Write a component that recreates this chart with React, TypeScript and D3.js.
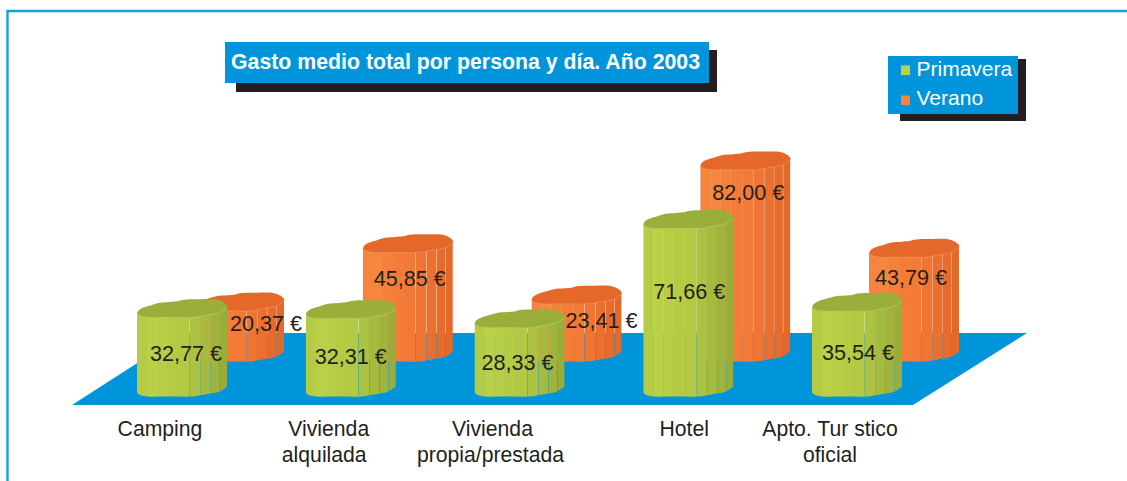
import React from "react";
import * as d3 from "d3";

const categories = ["Camping", "Vivienda alquilada", "Vivienda propia/prestada", "Hotel", "Apto. Tur stico oficial"];
const categoryLines = [["Camping"], ["Vivienda", "alquilada"], ["Vivienda", "propia/prestada"], ["Hotel"], ["Apto. Tur stico", "oficial"]];
const primavera = [32.77, 32.31, 28.33, 71.66, 35.54];
const verano = [20.37, 45.85, 23.41, 82.0, 43.79];
const seriesNames = ["Primavera", "Verano"];
const title = "Gasto medio total por persona y día. Año 2003";

const W = 1127, H = 481;
const FONT = "'Liberation Sans', Arial, sans-serif";
const BLUE = "#0095da";
const INK = "#231f20";

// layout
const x = d3.scalePoint<string>().domain(categories).range([182, 857]);
const h = d3.scaleLinear().domain([0, 90]).range([4, 210]);
const BASE = { green: 387.5, orange: 352.5 };
const ORANGE_DX = 57;

// blob outline of a cylinder top, relative to its centre
const backEdge: [number, number][] = [[-45, 5.3], [-43.5, 2], [-39, -0.7], [-30, -3.6], [-22.7, -5.7], [-12, -6.6], [-5, -7.2], [2.3, -8.8], [18, -9.2], [34, -9], [41, -6.5], [45, -3]];
const frontEdge: [number, number][] = [[45, -0.7], [37, 4.3], [24, 6.8], [10.7, 9.1], [-2.7, 9], [-18, 9], [-34, 9], [-42, 7.5], [-45, 5.3]];
const stripStops = [0, 10, 20, 30, 42, 53, 64, 74, 83, 90];
const gapStops = [53, 64, 74, 83];
const greenShades = ["#b4cb45", "#bad047", "#b8ce46", "#b5cb44", "#b3c943", "#acc242", "#a5bb40", "#9eb43e", "#97ad3c"];
const orangeShades = ["#f5843e", "#f6873f", "#f4813b", "#f37d38", "#f27a36", "#ee7533", "#ea7030", "#e76b2d", "#e3682b"];

const lin = d3.line<[number, number]>().x(d => d[0]).y(d => d[1]).curve(d3.curveLinear);
const smooth = d3.line<[number, number]>().x(d => d[0]).y(d => d[1]).curve(d3.curveCatmullRom.alpha(0.5));
const smoothClosed = d3.line<[number, number]>().x(d => d[0]).y(d => d[1]).curve(d3.curveCatmullRomClosed.alpha(0.5));

function Cylinder({ id, cx, base, value, shades, top, edge }: any) {
  const shift = h(value);
  const cy = base - shift;
  const tr = (p: [number, number], dy: number): [number, number] => [cx + p[0], dy + p[1]];
  const topPts = [...backEdge, ...frontEdge].map(p => tr(p, cy));
  const frontTop = frontEdge.map(p => tr(p, cy));
  const frontBottom = [...frontEdge].reverse().map(p => tr(p, base));
  const bodyPath = (smooth(frontBottom) || "") + "L" + tr([45, -0.7], cy).join(",") + "L" + tr([-45, 5.3], cy).join(",") + "Z";
  return (
    <g>
      <clipPath id={id}><path d={bodyPath} /></clipPath>
      <g clipPath={`url(#${id})`}>
        {shades.map((c: string, i: number) => {
          const x0 = stripStops[i], x1 = stripStops[i + 1];
          const gap = gapStops.includes(x1) ? 0.3 : -0.3;
          return <rect key={i} x={cx - 45 + x0} y={cy - 12} width={x1 - x0 - gap} height={shift + 30} fill={c} />;
        })}
      </g>
      <path d={smoothClosed(topPts) || ""} fill={top} />
      <path d={smooth(frontTop) || ""} fill="none" stroke={edge} strokeWidth={0.5} />
    </g>
  );
}

const labelNudgeG: [number, number][] = [[4, 53], [0, 54], [-2, 51.5], [1, 80], [1, 58]];
const labelNudgeO: [number, number][] = [[27, 29], [2, 42.5], [25, 32.8], [3, 39.5], [-3, 36.5]];
// horizontal offset of each category-label line from the category position
const catDx = [[-22], [-22, -26.5], [-27, -29], [-4], [-27, -27]];

export default function App() {
  const planeX = [72, 913, 1027, 184];
  const planeY = [405, 405, 333, 333];
  const plane = planeX.map((px, i) => [px, planeY[i]] as [number, number]);
  const valueText = (v: number) => v.toFixed(2).replace(".", ",") + " €";
  return (
    <svg width={W} height={H} viewBox={`0 0 ${W} ${H}`} style={{ position: "absolute", left: 0, top: 0, display: "block", background: "#fff" }}>
      <path d={`M7.5 ${H}V11H${W}`} fill="none" stroke="#12a0e0" strokeWidth={2.4} />

      <rect x={236} y={50} width={481} height={42} fill={INK} />
      <rect x={225} y={42} width={484} height={41} fill={BLUE} />
      <text x={231} y={69} fontFamily={FONT} fontWeight={700} fontSize={21.3} fill="#fff">{title}</text>

      <rect x={900} y={59} width={126} height={62} fill={INK} />
      <rect x={888} y={56} width={130} height={58} fill={BLUE} />
      {seriesNames.map((s, i) => (
        <g key={s}>
          <rect x={901} y={65.5 + i * 30} width={9} height={9.5} fill={i === 0 ? "#bcd147" : "#f58440"} />
          <text x={916.5} y={76 + i * 29} fontFamily={FONT} fontSize={21} fill="#fff">{s}</text>
        </g>
      ))}

      <path d={(lin(plane) || "") + "Z"} fill={BLUE} />

      {categories.map((c, i) => (
        <g key={c}>
          <Cylinder id={`o${i}`} cx={x(c)! + ORANGE_DX} base={BASE.orange} value={verano[i]} shades={orangeShades} top="#e5682b" edge="#f8a070" />
          <Cylinder id={`g${i}`} cx={x(c)!} base={BASE.green} value={primavera[i]} shades={greenShades} top="#9aaf3b" edge="#c4d66a" />
        </g>
      ))}

      {categories.map((c, i) => (
        <g key={c} fontFamily={FONT} fontSize={21.6} fill={INK} textAnchor="middle">
          <text x={x(c)! + ORANGE_DX + labelNudgeO[i][0]} y={BASE.orange - h(verano[i]) + labelNudgeO[i][1]}>{valueText(verano[i])}</text>
          <text x={x(c)! + labelNudgeG[i][0]} y={BASE.green - h(primavera[i]) + labelNudgeG[i][1]}>{valueText(primavera[i])}</text>
          {categoryLines[i].map((l, j) => (
            <text key={l} x={x(c)! + catDx[i][j]} y={436 + j * 26} fontSize={21.2}>{l}</text>
          ))}
        </g>
      ))}
    </svg>
  );
}
